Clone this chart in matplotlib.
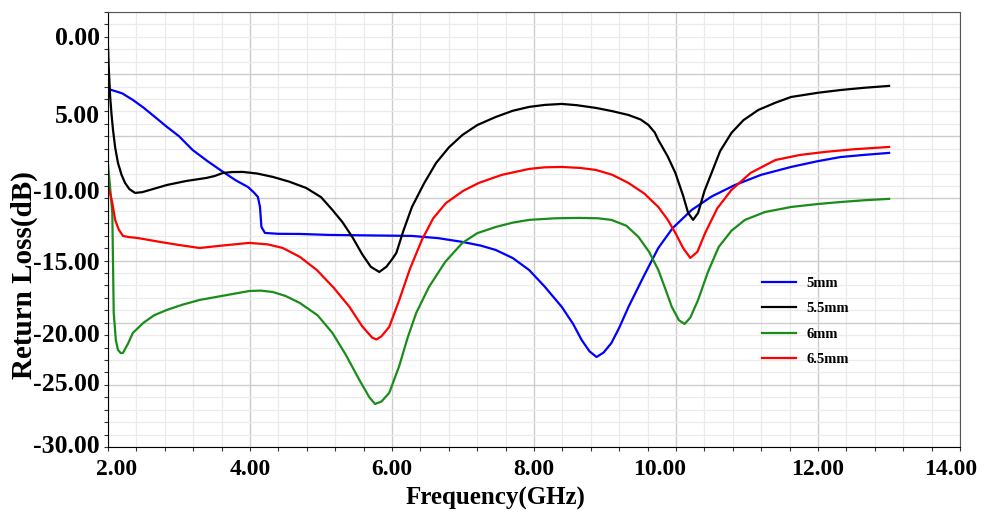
import numpy as np
import matplotlib.pyplot as plt
import matplotlib.transforms as mtransforms
from matplotlib.ticker import MultipleLocator

plt.rcParams['font.family'] = ['Liberation Serif', 'DejaVu Serif']
plt.rcParams['font.weight'] = 'bold'

# 5mm (blue)
f_5 = [2.0, 2.2, 2.35, 2.5, 2.65, 2.83, 3.0, 3.19, 3.4, 3.62, 3.8, 3.97, 4.05, 4.11,
       4.14, 4.15, 4.16, 4.21, 4.4, 4.70, 5.12, 5.7, 6.28, 6.65, 6.99, 7.25, 7.46, 7.7,
       7.93, 8.15, 8.39, 8.55, 8.67, 8.78, 8.88, 8.98, 9.09, 9.2, 9.33, 9.55, 9.75,
       9.95, 10.22, 10.5, 10.83, 11.2, 11.62, 12.0, 12.32, 12.65, 13.0]
s_5 = [-1.19, -1.55, -2.08, -2.7, -3.4, -4.25, -5.0, -6.10, -7.0, -7.87, -8.55, -9.08,
       -9.5, -9.88, -10.69, -11.5, -12.30, -12.78, -12.85, -12.86, -12.94, -12.98,
       -13.02, -13.2, -13.50, -13.8, -14.15, -14.8, -15.76, -17.1, -18.73, -20.1,
       -21.39, -22.3, -22.76, -22.4, -21.63, -20.4, -18.73, -16.2, -13.99, -12.4,
       -10.93, -9.85, -8.92, -8.1, -7.47, -7.0, -6.67, -6.5, -6.34]

# 5.5mm (black)
f_55 = [2.0, 2.01, 2.03, 2.05, 2.07, 2.1, 2.14, 2.19, 2.24, 2.3, 2.38, 2.48, 2.59, 2.83,
        3.1, 3.39, 3.5, 3.62, 3.75, 3.90, 4.1, 4.32, 4.55, 4.79, 5.0, 5.16, 5.3, 5.44,
        5.58, 5.7, 5.82, 5.92, 6.0, 6.06, 6.16, 6.28, 6.45, 6.62, 6.8, 6.99, 7.2, 7.46,
        7.7, 7.93, 8.15, 8.39, 8.6, 8.87, 9.1, 9.33, 9.5, 9.61, 9.7, 9.75, 9.88, 9.99,
        10.1, 10.17, 10.24, 10.31, 10.4, 10.50, 10.62, 10.78, 10.95, 11.16, 11.4, 11.62,
        12.0, 12.32, 12.65, 13.0]
s_55 = [2.1, 0.5, -1.84, -3.3, -4.49, -5.9, -7.15, -8.1, -8.76, -9.25, -9.56, -9.5,
        -9.32, -8.92, -8.6, -8.35, -8.2, -7.95, -7.88, -7.87, -8.0, -8.27, -8.65, -9.16,
        -9.9, -10.93, -11.9, -13.10, -14.5, -15.5, -15.92, -15.5, -14.9, -14.39, -12.6,
        -10.69, -8.8, -7.15, -5.9, -4.90, -4.1, -3.45, -2.95, -2.64, -2.48, -2.40, -2.5,
        -2.72, -2.98, -3.29, -3.65, -4.09, -4.7, -5.30, -6.6, -7.95, -9.8, -11.17, -11.73,
        -11.17, -9.4, -7.95, -6.2, -4.73, -3.7, -2.88, -2.3, -1.84, -1.5, -1.28, -1.1,
        -0.95]

# 6mm (green)
f_6 = [2.0, 2.03, 2.06, 2.07, 2.08, 2.11, 2.14, 2.18, 2.21, 2.28, 2.35, 2.5, 2.65, 2.83,
       3.05, 3.29, 3.65, 3.99, 4.15, 4.32, 4.5, 4.70, 4.95, 5.16, 5.35, 5.54, 5.68, 5.76,
       5.85, 5.96, 6.1, 6.22, 6.34, 6.52, 6.75, 6.99, 7.2, 7.46, 7.7, 7.93, 8.3, 8.63,
       8.9, 9.09, 9.3, 9.47, 9.62, 9.75, 9.85, 9.94, 10.04, 10.12, 10.2, 10.31, 10.45,
       10.60, 10.78, 10.97, 11.25, 11.62, 12.0, 12.32, 12.65, 13.0]
s_6 = [-7.31, -9.2, -11.17, -15.19, -19.22, -21.4, -22.19, -22.45, -22.43, -21.7, -20.82,
       -20.0, -19.4, -18.97, -18.55, -18.17, -17.8, -17.45, -17.42, -17.53, -17.85,
       -18.41, -19.4, -20.82, -22.6, -24.61, -26.0, -26.54, -26.35, -25.65, -23.5, -21.2,
       -19.22, -17.12, -15.1, -13.58, -12.8, -12.30, -11.95, -11.73, -11.6, -11.57,
       -11.6, -11.73, -12.2, -13.10, -14.3, -15.76, -17.3, -18.73, -19.8, -20.10, -19.6,
       -18.17, -15.9, -13.91, -12.6, -11.73, -11.1, -10.69, -10.45, -10.29, -10.15,
       -10.04]

# 6.5mm (red)
f_65 = [2.0, 2.03, 2.06, 2.10, 2.15, 2.21, 2.3, 2.41, 2.73, 3.0, 3.29, 3.6, 3.99, 4.25,
        4.46, 4.7, 4.94, 5.18, 5.40, 5.58, 5.72, 5.78, 5.85, 5.96, 6.1, 6.25, 6.42, 6.58,
        6.76, 7.0, 7.22, 7.55, 7.93, 8.15, 8.39, 8.65, 8.87, 9.1, 9.33, 9.55, 9.75, 9.88,
        9.99, 10.1, 10.2, 10.3, 10.41, 10.58, 10.78, 11.05, 11.40, 11.75, 12.10, 12.5,
        13.0]
s_65 = [-9.08, -9.6, -10.37, -11.73, -12.5, -13.02, -13.12, -13.18, -13.50, -13.75,
        -13.99, -13.8, -13.58, -13.7, -13.99, -14.7, -15.76, -17.2, -18.73, -20.3, -21.2,
        -21.35, -21.1, -20.34, -18.2, -15.7, -13.34, -11.6, -10.37, -9.4, -8.76, -8.1,
        -7.63, -7.5, -7.47, -7.55, -7.71, -8.1, -8.76, -9.6, -10.69, -11.7, -12.78, -14.0,
        -14.79, -14.3, -12.78, -10.8, -9.32, -7.95, -6.91, -6.5, -6.26, -6.05, -5.86]

series = [(f_5, s_5, '5mm', '#0000ff'),
          (f_55, s_55, '5.5mm', '#000000'),
          (f_6, s_6, '6mm', '#1a8c1a'),
          (f_65, s_65, '6.5mm', '#ff0000')]

# y tick labels as they appear in the picture
ylab_pos = [2.9, -3.45, -9.5, -15.2, -21.0, -25.0, -30.0]
ylab_txt = ['0.00', '5.00', '-10.00', '-15.00', '-20.00', '-25.00', '-30.00']

fig = plt.figure(figsize=(9.84, 5.13), dpi=100)
ax = fig.add_axes([0.1098, 0.1287, 0.8659, 0.848])

for f, s, lab, c in series:
    ax.plot(f, s, color=c, linewidth=1.6, label=lab)

ax.set_xlim(2, 14)
ax.set_ylim(-30, 5)
ax.xaxis.set_major_locator(MultipleLocator(2))
ax.xaxis.set_minor_locator(MultipleLocator(0.4))
ax.yaxis.set_major_locator(MultipleLocator(5))
ax.yaxis.set_minor_locator(MultipleLocator(1))
ax.xaxis.set_major_formatter(lambda v, p: '%.2f' % v)
ax.grid(which='major', color='#cccccc', linewidth=1.0)
ax.grid(which='minor', color='#ebebeb', linewidth=0.9)
ax.set_axisbelow(True)

ax.tick_params(axis='both', which='both', direction='out', length=3, width=0.8,
               color='#333333')
ax.tick_params(axis='y', labelleft=False)
ax.tick_params(axis='x', labelsize=17, pad=6)

fig.canvas.draw()
# small shifts of some x labels, as in the picture
shifts = {'2.00': 9, '10.00': -16, '14.00': -9}
for t in ax.get_xticklabels():
    t.set_fontweight('bold')
    dx = shifts.get(t.get_text(), 0)
    if dx:
        t.set_transform(t.get_transform() +
                        mtransforms.ScaledTranslation(dx / 100, 0, fig.dpi_scale_trans))

for yp, tx in zip(ylab_pos, ylab_txt):
    ax.text(-0.01, yp, tx, transform=ax.get_yaxis_transform(), ha='right',
            va='center', fontsize=18.5, fontweight='bold')

ax.spines['left'].set_color('#000000')
ax.spines['bottom'].set_color('#000000')
ax.spines['top'].set_color('#555555')
ax.spines['right'].set_color('#555555')

ax.set_xlabel('Frequency(GHz)', fontsize=18, fontweight='bold')
ax.xaxis.set_label_coords(0.455, -0.092)
ax.set_ylabel('Return Loss(dB)', fontsize=21, fontweight='bold')
ax.yaxis.set_label_coords(-0.082, 0.395)

ax.legend(loc='upper left', bbox_to_anchor=(0.768, 0.392), frameon=False,
          borderpad=0, borderaxespad=0, handlelength=2.3, handletextpad=0.7,
          labelspacing=0.85, prop={'size': 10.5, 'weight': 'bold'})

plt.savefig('out.png', dpi=100)
